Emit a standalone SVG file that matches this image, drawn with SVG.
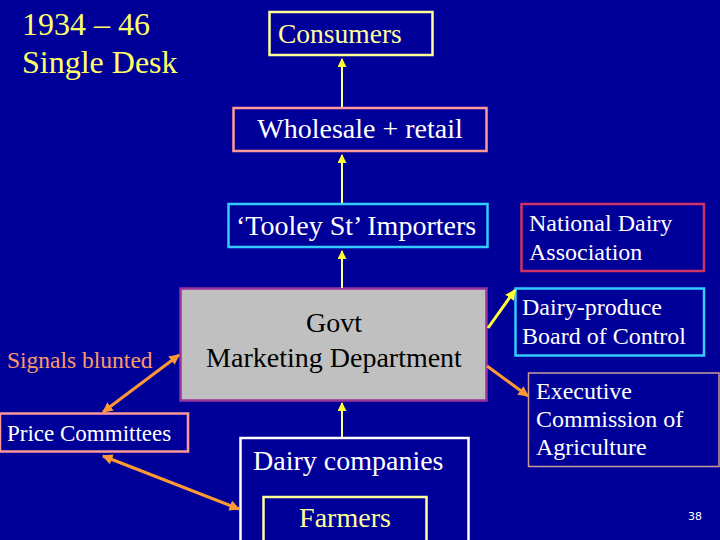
<svg xmlns="http://www.w3.org/2000/svg" width="720" height="540" viewBox="0 0 720 540">
<defs>
<style>
.w{fill:#FFFFFF;}
.y{fill:#FFFF99;}
.box{fill:none;stroke-width:2.5;}
.vc{stroke:#FFFF99;stroke-width:2;fill:none;}
.or{stroke:#FF9933;stroke-width:3;fill:none;}
.ye{stroke:#FFFF33;stroke-width:3;fill:none;}
</style>
<marker id="ah" viewBox="0 0 10 10" refX="9" refY="5" markerWidth="4.5" markerHeight="4.5" orient="auto-start-reverse" markerUnits="strokeWidth">
<path d="M0,0 L10,5 L0,10 z" fill="#FFFF33"/>
</marker>
<marker id="ao" viewBox="0 0 10 10" refX="9" refY="5" markerWidth="3.5" markerHeight="3.5" orient="auto-start-reverse" markerUnits="strokeWidth">
<path d="M0,0 L10,5 L0,10 z" fill="#FF9933"/>
</marker>
<marker id="ay" viewBox="0 0 10 10" refX="9" refY="5" markerWidth="3.5" markerHeight="3.5" orient="auto-start-reverse" markerUnits="strokeWidth">
<path d="M0,0 L10,5 L0,10 z" fill="#FFFF33"/>
</marker>
</defs>
<rect x="0" y="0" width="720" height="540" fill="#000099"/>

<g font-family="'Liberation Serif', 'DejaVu Serif', serif">
<g id="title">
<text x="22" y="35" font-size="32" fill="#FFFF66">1934 – 46</text>
<text x="22" y="73" font-size="32" fill="#FFFF66">Single Desk</text>
</g>

<g id="consumers">
<rect class="box" x="269.5" y="12" width="163" height="43" stroke="#FFFF99"/>
<text class="y" x="278" y="43" font-size="27.5">Consumers</text>
</g>

<g id="wholesale">
<rect class="box" x="233.5" y="108" width="253" height="43" stroke="#FF9999"/>
<text class="w" x="360" y="138" font-size="28" text-anchor="middle">Wholesale + retail</text>
</g>

<g id="importers">
<rect class="box" x="228.5" y="204" width="259" height="43" stroke="#33CCFF"/>
<text class="w" x="236" y="235" font-size="28">‘Tooley St’ Importers</text>
</g>

<g id="govt">
<rect x="180.5" y="288.5" width="306" height="112" fill="#C0C0C0" stroke="#993399" stroke-width="2.5"/>
<text x="334" y="332" font-size="28" fill="#000000" text-anchor="middle">Govt</text>
<text x="334" y="367" font-size="28" fill="#000000" text-anchor="middle">Marketing Department</text>
</g>

<g id="dairy-companies">
<rect class="box" x="240.5" y="438" width="228" height="110" stroke="#FFFFFF"/>
<text class="w" x="253" y="470" font-size="28">Dairy companies</text>
</g>

<g id="farmers">
<rect class="box" x="263.5" y="497" width="163" height="50" stroke="#FFFF99"/>
<text class="y" x="345" y="527" font-size="28" text-anchor="middle">Farmers</text>
</g>

<g id="signals">
<text x="7" y="368" font-size="23.5" fill="#FF9966">Signals blunted</text>
</g>

<g id="price-committees">
<rect class="box" x="0" y="413.5" width="188" height="38" stroke="#FF9999"/>
<text class="w" x="7" y="441" font-size="23">Price Committees</text>
</g>

<g id="nda">
<rect class="box" x="521.5" y="204" width="182.5" height="67" stroke="#CC3366"/>
<text class="w" x="529" y="231" font-size="24">National Dairy</text>
<text class="w" x="529" y="259.5" font-size="24">Association</text>
</g>

<g id="board">
<rect class="box" x="515.5" y="288.5" width="188.5" height="67" stroke="#33CCFF" stroke-width="3"/>
<text class="w" x="522" y="315" font-size="24">Dairy-produce</text>
<text class="w" x="522" y="343.5" font-size="24">Board of Control</text>
</g>

<g id="executive">
<rect x="528.5" y="373" width="190.5" height="93.5" fill="none" stroke="#CC9999" stroke-width="1.5"/>
<text class="w" x="536" y="399" font-size="24">Executive</text>
<text class="w" x="536" y="427" font-size="24">Commission of</text>
<text class="w" x="536" y="455" font-size="24">Agriculture</text>
</g>
</g>

<g id="page-number">
<text x="688" y="520" font-family="'DejaVu Sans', sans-serif" font-size="11" fill="#FFFFFF">38</text>
</g>

<g id="connectors">
<line class="vc" x1="342" y1="107" x2="342" y2="59" marker-end="url(#ah)"/>
<line class="vc" x1="342" y1="203" x2="342" y2="155" marker-end="url(#ah)"/>
<line class="vc" x1="342" y1="288" x2="342" y2="251" marker-end="url(#ah)"/>
<line class="vc" x1="342" y1="437" x2="342" y2="403" marker-end="url(#ah)"/>
<line class="or" x1="103" y1="412" x2="179" y2="355" marker-start="url(#ao)" marker-end="url(#ao)"/>
<line class="or" x1="103" y1="456" x2="239" y2="509" marker-start="url(#ao)" marker-end="url(#ao)"/>
<line class="ye" x1="488" y1="328" x2="515" y2="290" marker-end="url(#ay)"/>
<line class="or" x1="487" y1="366" x2="528" y2="396" marker-end="url(#ao)"/>
</g>
</svg>
